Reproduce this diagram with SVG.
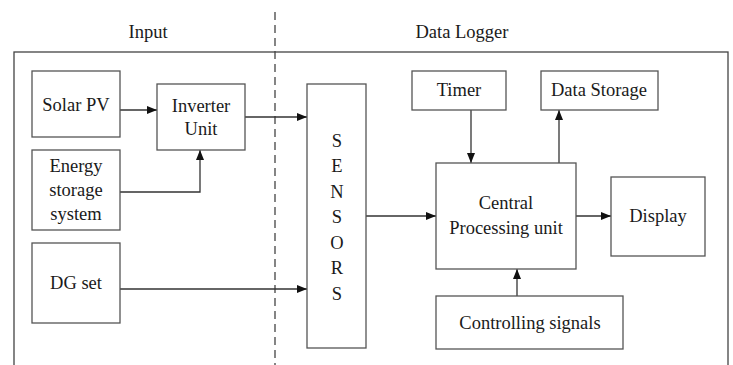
<svg xmlns="http://www.w3.org/2000/svg" width="733" height="365" viewBox="0 0 733 365">
<defs>
<style>
.box{fill:#fff;stroke:#555;stroke-width:1.3}
.ln{fill:none;stroke:#333;stroke-width:1.3}
.t{font-family:'Liberation Serif','Times New Roman',Times,serif;font-size:18.5px;fill:#1a1a1a;text-anchor:middle;dominant-baseline:central}
</style>
<marker id="ah" viewBox="0 0 10 8" refX="10" refY="4" markerWidth="10" markerHeight="8" markerUnits="userSpaceOnUse" orient="auto">
<path d="M0,0 L10,4 L0,8 Z" fill="#111"/>
</marker>
</defs>
<rect width="733" height="365" fill="#fff"/>
<g id="frame">
<rect x="14" y="52" width="714" height="330" fill="none" stroke="#444" stroke-width="1.3"/>
<line x1="275" y1="12" x2="275" y2="365" stroke="#444" stroke-width="1.3" stroke-dasharray="8,5"/>
<text class="t" x="148" y="32" font-family="Liberation Serif, serif">Input</text>
<text class="t" x="462" y="32" font-family="Liberation Serif, serif">Data Logger</text>
</g>
<g id="connectors">
<line class="ln" x1="120" y1="110" x2="157" y2="110" marker-end="url(#ah)"/>
<line class="ln" x1="245" y1="117" x2="307" y2="117" marker-end="url(#ah)"/>
<polyline class="ln" points="120,192 200,192 200,150" marker-end="url(#ah)"/>
<line class="ln" x1="120" y1="289" x2="307" y2="289" marker-end="url(#ah)"/>
<line class="ln" x1="366" y1="216" x2="436" y2="216" marker-end="url(#ah)"/>
<line class="ln" x1="471" y1="110" x2="471" y2="163" marker-end="url(#ah)"/>
<line class="ln" x1="559" y1="163" x2="559" y2="110" marker-end="url(#ah)"/>
<line class="ln" x1="576" y1="216" x2="611" y2="216" marker-end="url(#ah)"/>
<line class="ln" x1="517" y1="296" x2="517" y2="269" marker-end="url(#ah)"/>
</g>
<g id="solar-pv">
<rect class="box" x="32" y="71" width="88" height="66"/>
<text class="t" x="76" y="105">Solar PV</text>
</g>
<g id="inverter">
<rect class="box" x="157" y="84" width="88" height="66"/>
<text class="t" x="201" y="106">Inverter</text>
<text class="t" x="201" y="129">Unit</text>
</g>
<g id="energy-storage">
<rect class="box" x="32" y="150" width="88" height="80"/>
<text class="t" x="76" y="166">Energy</text>
<text class="t" x="76" y="190">storage</text>
<text class="t" x="76" y="214">system</text>
</g>
<g id="dg-set">
<rect class="box" x="32" y="243" width="88" height="80"/>
<text class="t" x="76" y="283">DG set</text>
</g>
<g id="sensors">
<rect class="box" x="307" y="84" width="59" height="264"/>
<text class="t" x="337" y="141">S</text>
<text class="t" x="337" y="166">E</text>
<text class="t" x="337" y="192">N</text>
<text class="t" x="337" y="217">S</text>
<text class="t" x="337" y="243">O</text>
<text class="t" x="337" y="268">R</text>
<text class="t" x="337" y="294">S</text>
</g>
<g id="timer">
<rect class="box" x="412" y="71" width="94" height="39"/>
<text class="t" x="459" y="90">Timer</text>
</g>
<g id="data-storage">
<rect class="box" x="541" y="71" width="117" height="39"/>
<text class="t" x="599" y="90">Data Storage</text>
</g>
<g id="cpu">
<rect class="box" x="436" y="163" width="140" height="106"/>
<text class="t" x="506" y="203">Central</text>
<text class="t" x="506" y="228">Processing unit</text>
</g>
<g id="display">
<rect class="box" x="611" y="177" width="94" height="79"/>
<text class="t" x="658" y="216">Display</text>
</g>
<g id="controlling-signals">
<rect class="box" x="436" y="296" width="187" height="53"/>
<text class="t" x="530" y="323">Controlling signals</text>
</g>
</svg>
